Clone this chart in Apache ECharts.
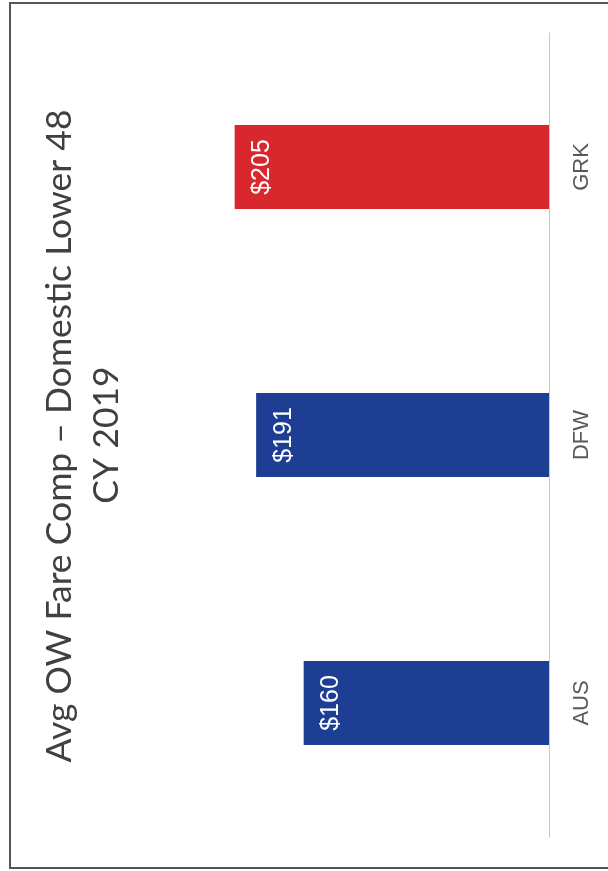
<!DOCTYPE html>
<html>
<head>
<meta charset="utf-8">
<script src="https://cdn.jsdelivr.net/npm/echarts@6/dist/echarts.min.js"></script>
<style>
html,body{margin:0;padding:0;background:#fff;}
#chart{width:608px;height:871px;}
</style>
</head>
<body>
<div id="chart"></div>
<script>
const categories = ['AUS', 'DFW', 'GRK'];
const fares = [160, 191, 205];
const titleLine1 = 'Avg OW Fare Comp \u2013 Domestic Lower 48';
const titleLine2 = 'CY 2019';

const BLUE = '#1d3e92';
const RED = '#d8282e';

const chart = echarts.init(document.getElementById('chart'), null, {renderer: 'canvas'});
chart.setOption({
  backgroundColor: '#ffffff',
  animation: false,
  grid: {left: 89, right: 59, top: 33, bottom: 34},
  xAxis: {type: 'value', inverse: true, min: 0, max: 300, show: false},
  yAxis: {
    type: 'category',
    data: categories,
    position: 'right',
    axisLine: {show: true, lineStyle: {color: '#c6c6c6', width: 1}},
    axisTick: {show: false},
    splitLine: {show: false},
    axisLabel: {
      rotate: 90,
      align: 'center',
      verticalAlign: 'top',
      margin: 22,
      color: '#595959',
      fontFamily: 'Liberation Sans, Arial, sans-serif',
      fontSize: 22
    }
  },
  graphic: [
    {type: 'rect', shape: {x: 10, y: 3, width: 640, height: 865},
     style: {fill: 'none', stroke: '#555555', lineWidth: 2}, silent: true},
    {type: 'text', x: 60, y: 436, rotation: Math.PI / 2,
     style: {text: titleLine1, fill: '#404040', font: '35.5px Lato, sans-serif',
             textAlign: 'center', textVerticalAlign: 'middle'}},
    {type: 'text', x: 107, y: 435, rotation: Math.PI / 2,
     style: {text: titleLine2, fill: '#404040', font: '35.5px Lato, sans-serif',
             textAlign: 'center', textVerticalAlign: 'middle'}}
  ],
  series: [{
    type: 'bar',
    barWidth: 84,
    data: fares.map((v, i) => ({value: v, itemStyle: {color: categories[i] === 'GRK' ? RED : BLUE}})),
    label: {
      show: true,
      position: 'insideLeft',
      distance: 15,
      rotate: 90,
      align: 'center',
      verticalAlign: 'top',
      formatter: p => '$' + p.value,
      color: '#ffffff',
      fontFamily: 'Liberation Sans, Arial, sans-serif',
      fontSize: 25
    }
  }]
});
</script>
</body>
</html>
